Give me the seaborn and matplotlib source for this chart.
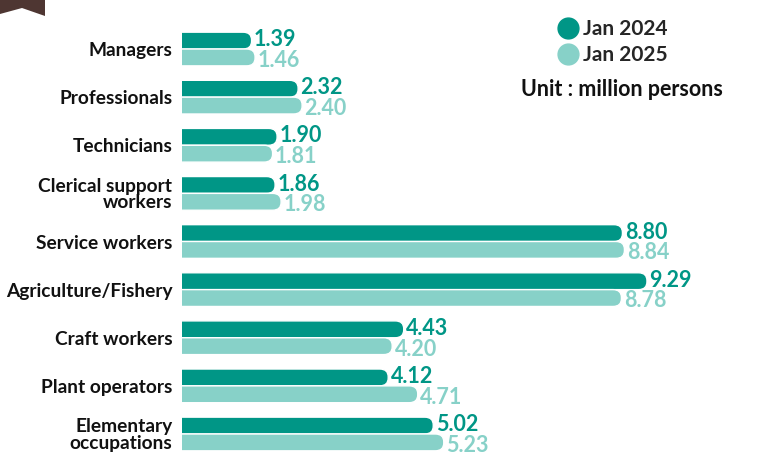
import matplotlib
matplotlib.use("Agg")
import matplotlib.pyplot as plt
from matplotlib.lines import Line2D
from matplotlib.patches import FancyBboxPatch, Polygon
import pandas as pd
import seaborn as sns

categories = [
    "Managers",
    "Professionals",
    "Technicians",
    "Clerical support\nworkers",
    "Service workers",
    "Agriculture/Fishery",
    "Craft workers",
    "Plant operators",
    "Elementary\noccupations",
]
jan_2024 = [1.39, 2.32, 1.90, 1.86, 8.80, 9.29, 4.43, 4.12, 5.02]
jan_2025 = [1.46, 2.40, 1.81, 1.98, 8.84, 8.78, 4.20, 4.71, 5.23]
series = ["Jan 2024", "Jan 2025"]

DARK = "#009686"
LIGHT = "#87D1C8"
BROWN = "#4E3632"
W, H = 757, 461

df = pd.DataFrame({
    "category": categories * 2,
    "value": jan_2024 + jan_2025,
    "period": [series[0]] * len(categories) + [series[1]] * len(categories),
})

sns.set_theme(style="white")
plt.rcParams["font.family"] = ["Lato", "DejaVu Sans"]

fig = plt.figure(figsize=(W / 100, H / 100), dpi=100)
ax = fig.add_axes([182 / W, 0, 1 - 182 / W, 1])

sns.barplot(
    data=df, x="value", y="category", hue="period", orient="h",
    palette=[DARK, LIGHT], width=0.7, legend=False, ax=ax,
)
ax.set_xlim(0, (W - 182) / 50.05)
ax.set_ylim(8 + (H - 434) / 48.1, -49 / 48.1)

# swap square bars for bars with a rounded right end
px_x = ax.transData.transform((1, 0))[0] - ax.transData.transform((0, 0))[0]
px_y = abs(ax.transData.transform((0, 1))[1] - ax.transData.transform((0, 0))[1])
aspect = px_x / px_y
for i, (container, color, vals) in enumerate(zip(ax.containers, [DARK, LIGHT], [jan_2024, jan_2025])):
    for bar, v in zip(container, vals):
        y, h = bar.get_y(), bar.get_height()
        bar.set_visible(False)
        r = (h * px_y / 2) / px_x
        patch = FancyBboxPatch(
            (-r, y), v + r, h,
            boxstyle=f"round,pad=0,rounding_size={r}",
            mutation_aspect=1 / aspect,
            facecolor=color, edgecolor="white", linewidth=1.0,
            clip_on=True,
        )
        ax.add_patch(patch)
        ax.text(v + 0.05, y + h / 2 + (0.06 if i else -0.02), f"{v:.2f}", color=color,
                fontsize=15.5, fontweight="bold", va="center", ha="left")

ax.set_xlabel("")
ax.set_ylabel("")
ax.set_xticks([])
ax.tick_params(axis="y", length=0, pad=7)
for lbl in ax.get_yticklabels():
    lbl.set_fontsize(13.8)
    lbl.set_fontweight("bold")
    lbl.set_color("#111111")
    lbl.set_linespacing(0.95)
sns.despine(ax=ax, left=True, bottom=True)

handles = [Line2D([], [], marker="o", linestyle="", markersize=15, color=c) for c in [DARK, LIGHT]]
leg = ax.legend(
    handles, series, loc="upper left", bbox_to_anchor=(557 / W, 1 - 19 / H),
    bbox_transform=fig.transFigure, frameon=False, handletextpad=0.15,
    labelspacing=0.3, borderpad=0, borderaxespad=0, handlelength=1.1,
    prop={"weight": "bold", "size": 15},
)
fig.text(622 / W, 1 - 89 / H, "Unit : million persons", ha="center", va="center",
         fontsize=15.5, fontweight="bold", color="#111111")

# corner ribbon
fig.patches.append(Polygon(
    [(0, 1), (45 / W, 1), (45 / W, 1 - 16 / H), (22 / W, 1 - 8 / H), (0, 1 - 14 / H)],
    closed=True, transform=fig.transFigure, facecolor=BROWN, edgecolor="none",
))

fig.savefig("out.png", dpi=100, facecolor="white")
